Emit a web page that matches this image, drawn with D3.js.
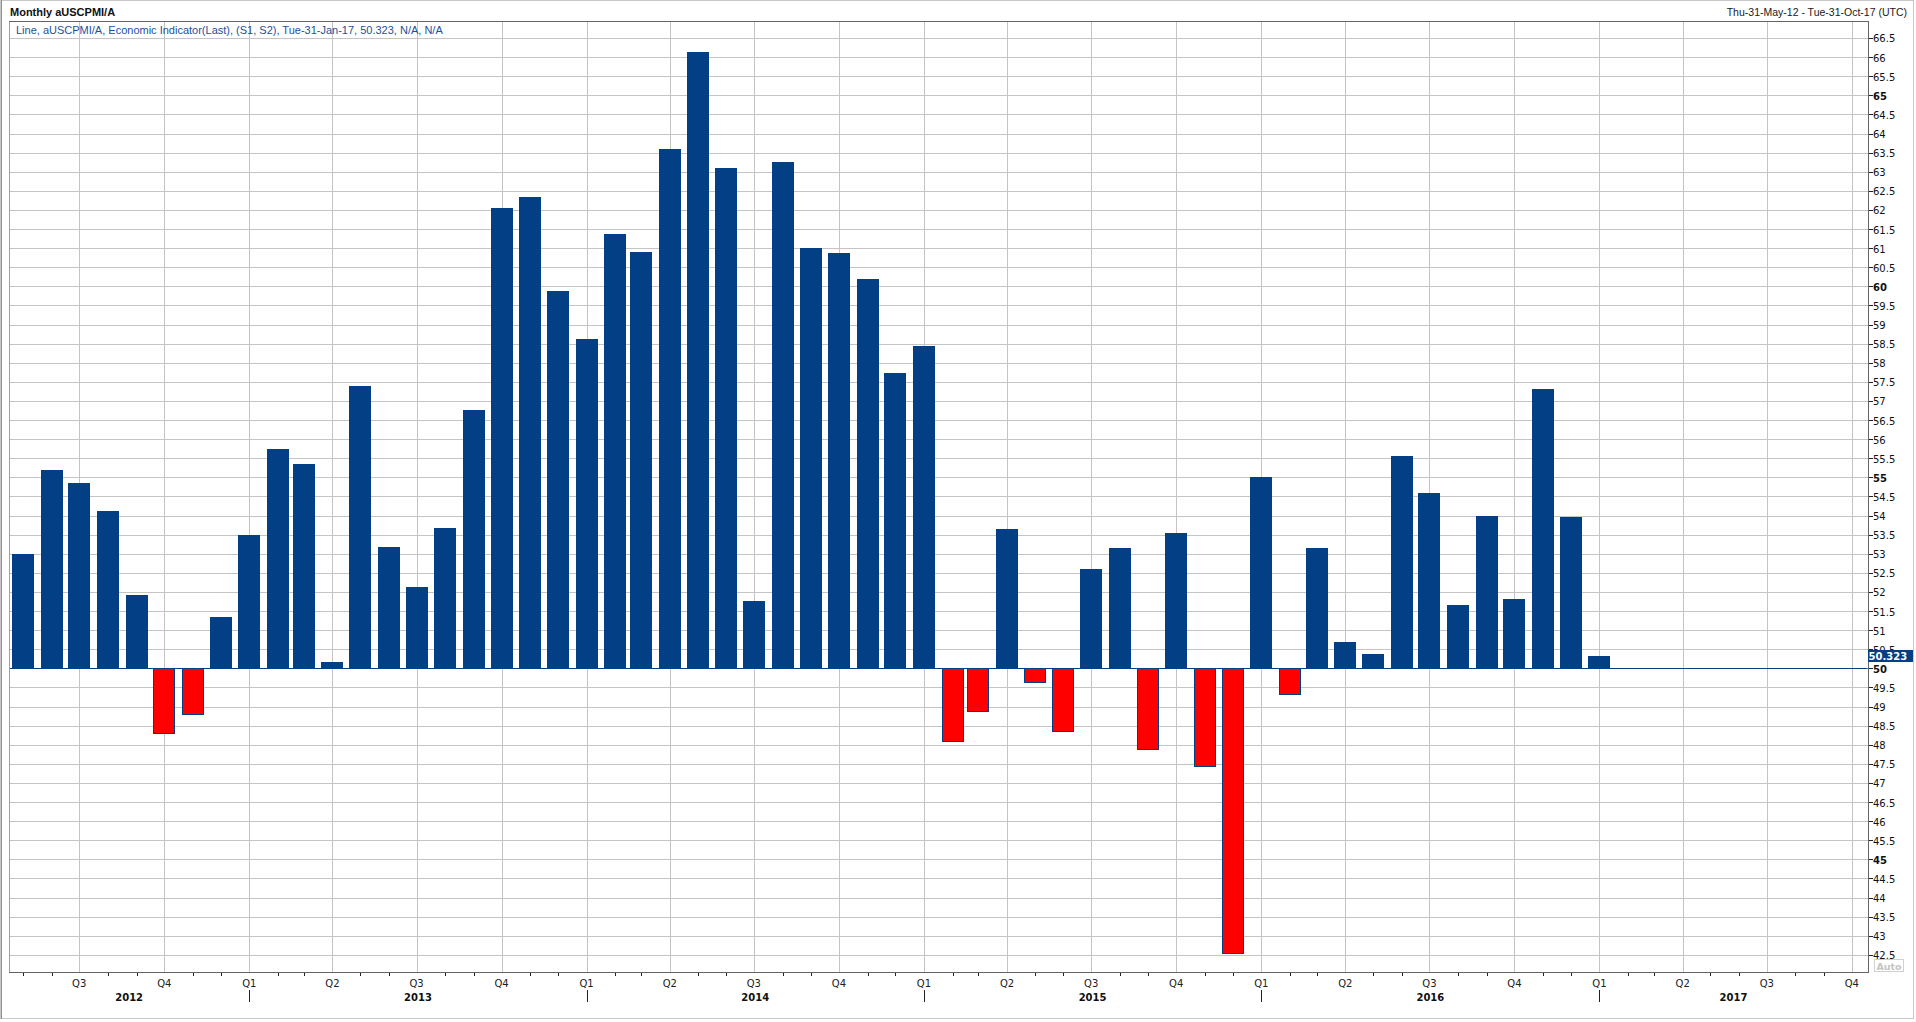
<!DOCTYPE html>
<html>
<head>
<meta charset="utf-8">
<script src="https://cdn.jsdelivr.net/npm/d3@7"></script>
<style>
  body { margin: 0; background: #fff; }
  svg { display: block; }
</style>
</head>
<body>
<svg id="chart" width="1916" height="1022"></svg>
<script>
// monthly readings, May 2012 .. Jan 2017
var months = [
  "2012-05","2012-06","2012-07","2012-08","2012-09","2012-10","2012-11","2012-12",
  "2013-01","2013-02","2013-03","2013-04","2013-05","2013-06","2013-07","2013-08","2013-09","2013-10","2013-11","2013-12",
  "2014-01","2014-02","2014-03","2014-04","2014-05","2014-06","2014-07","2014-08","2014-09","2014-10","2014-11","2014-12",
  "2015-01","2015-02","2015-03","2015-04","2015-05","2015-06","2015-07","2015-08","2015-09","2015-10","2015-11","2015-12",
  "2016-01","2016-02","2016-03","2016-04","2016-05","2016-06","2016-07","2016-08","2016-09","2016-10","2016-11","2016-12",
  "2017-01"
];
var pmi = [
  52.98, 55.18, 54.86, 54.13, 51.92, 48.30, 48.80, 51.34,
  53.49, 55.73, 55.34, 50.16, 57.39, 53.17, 52.14, 53.68, 56.75, 62.06, 62.35, 59.89,
  58.61, 61.36, 60.91, 63.60, 66.13, 63.09, 51.76, 63.25, 61.00, 60.88, 60.18, 57.74,
  58.45, 48.11, 48.88, 53.65, 49.65, 48.37, 52.59, 53.14, 47.89, 53.55, 47.44, 42.54,
  55.02, 49.33, 53.14, 50.70, 50.38, 55.57, 54.58, 51.66, 54.00, 51.82, 57.30, 53.97,
  50.323
];
var baseLevel = 50;
var lastValue = "50.323";
var titleText = "Monthly aUSCPMI/A";
var legendText = "Line, aUSCPMI/A, Economic Indicator(Last), (S1, S2), Tue-31-Jan-17, 50.323, N/A, N/A";
var rangeText = "Thu-31-May-12 - Tue-31-Oct-17 (UTC)";
var years = [2012, 2013, 2014, 2015, 2016, 2017];

var width = 1916, height = 1022;
var plot = {left: 9, right: 1867.5, top: 21, bottom: 972};
var blue = "#023f84", red = "#ff0000";
var axisFont = "'DejaVu Sans', Verdana, sans-serif";
var textFont = "'Liberation Sans', Arial, sans-serif";

var svg = d3.select("#chart");
var parseMonth = d3.utcParse("%Y-%m");
var data = months.map(function(m, i) { return {date: parseMonth(m), value: pmi[i]}; });

var x = d3.scaleUtc()
    .domain([new Date(Date.UTC(2012, 3, 16)), new Date(Date.UTC(2017, 9, 18))])
    .range([plot.left, plot.right]);
var y = d3.scaleLinear()
    .domain([42.05, 66.945])
    .range([plot.bottom, plot.top]);

function px(v) { return Math.round(v) + 0.5; }

// outer frame
svg.append("rect")
    .attr("x", 0.5).attr("y", 0.5)
    .attr("width", 1913).attr("height", 1018)
    .attr("fill", "none").attr("stroke", "#c8c8c8");
svg.append("line")
    .attr("x1", 1.5).attr("x2", 1.5).attr("y1", 0).attr("y2", 1019)
    .attr("stroke", "#909090");

// grid
var yTicks = d3.range(42.5, 66.51, 0.5);
var quarters = d3.utcMonth.every(3).range(new Date(Date.UTC(2012, 6, 1)), x.domain()[1]);
var monthTicks = d3.utcMonth.range(x.domain()[0], x.domain()[1])
    .filter(function(d) { return d.getUTCMonth() % 3 !== 0; });

var grid = svg.append("g").attr("stroke", "#c4c4c4").attr("shape-rendering", "crispEdges");
grid.selectAll(".hgrid").data(yTicks).enter().append("line")
    .attr("x1", plot.left).attr("x2", plot.right)
    .attr("y1", function(d) { return px(y(d)); })
    .attr("y2", function(d) { return px(y(d)); });
grid.selectAll(".vgrid").data(quarters).enter().append("line")
    .attr("x1", function(d) { return px(x(d)); })
    .attr("x2", function(d) { return px(x(d)); })
    .attr("y1", plot.top).attr("y2", plot.bottom);

// bars
var bars = svg.append("g").attr("shape-rendering", "crispEdges");
bars.selectAll("rect").data(data).enter().append("rect")
    .attr("x", function(d) { return Math.round(x(d.date) - 11) + 0.5; })
    .attr("width", 21)
    .attr("y", function(d) { return Math.round(y(Math.max(d.value, baseLevel))) + 0.5; })
    .attr("height", function(d) {
        return Math.max(1, Math.round(y(Math.min(d.value, baseLevel))) - Math.round(y(Math.max(d.value, baseLevel))));
    })
    .attr("fill", function(d) { return d.value < baseLevel ? red : blue; })
    .attr("stroke", blue);

// 50 line
svg.append("line")
    .attr("x1", plot.left).attr("x2", plot.right)
    .attr("y1", px(y(baseLevel))).attr("y2", px(y(baseLevel)))
    .attr("stroke", blue);

// plot frame
var frame = svg.append("g").attr("shape-rendering", "crispEdges");
frame.append("line").attr("x1", px(plot.left)).attr("x2", px(plot.left))
    .attr("y1", plot.top).attr("y2", plot.bottom).attr("stroke", "#a0a0a0");
frame.append("line").attr("x1", plot.left).attr("x2", plot.right)
    .attr("y1", px(plot.top)).attr("y2", px(plot.top)).attr("stroke", "#646464");
frame.append("line").attr("x1", plot.left).attr("x2", plot.right + 1)
    .attr("y1", px(plot.bottom)).attr("y2", px(plot.bottom)).attr("stroke", "#646464");
frame.append("line").attr("x1", px(plot.right)).attr("x2", px(plot.right))
    .attr("y1", plot.top).attr("y2", plot.bottom + 1).attr("stroke", "#646464");

// right value axis
var yAxis = svg.append("g").style("font-family", axisFont).style("font-size", "10px");
yAxis.selectAll("line").data(yTicks).enter().append("line")
    .attr("x1", px(plot.right)).attr("x2", px(plot.right) + 4)
    .attr("y1", function(d) { return px(y(d)); })
    .attr("y2", function(d) { return px(y(d)); })
    .attr("stroke", "#202020").attr("shape-rendering", "crispEdges");
yAxis.selectAll("text").data(yTicks).enter().append("text")
    .attr("x", 1873)
    .attr("y", function(d) { return y(d) + 4.5; })
    .attr("fill", "#101010")
    .style("font-weight", function(d) { return d % 5 === 0 ? "bold" : "normal"; })
    .text(function(d) { return d3.format("")(d); });

// last value tag
var lastY = Math.round(y(+lastValue));
svg.append("rect")
    .attr("x", 1868).attr("y", lastY - 6)
    .attr("width", 45).attr("height", 12)
    .attr("fill", blue);
svg.append("text")
    .attr("x", 1868.5).attr("y", lastY + 4)
    .attr("fill", "#fff")
    .style("font-family", axisFont).style("font-size", "10px").style("font-weight", "bold")
    .text(lastValue);

// "Auto" badge
svg.append("rect")
    .attr("x", 1874.5).attr("y", 959.5).attr("width", 29).attr("height", 12)
    .attr("fill", "#fff").attr("stroke", "#d0d0d0");
svg.append("text")
    .attr("x", 1889).attr("y", 969.5).attr("text-anchor", "middle")
    .attr("fill", "#c4c4c4")
    .style("font-family", axisFont).style("font-size", "9.5px").style("font-weight", "bold")
    .text("Auto");

// bottom time axis
var xAxis = svg.append("g").style("font-family", axisFont).style("font-size", "10px");
xAxis.selectAll(".mtick").data(monthTicks).enter().append("line")
    .attr("x1", function(d) { return px(x(d)); })
    .attr("x2", function(d) { return px(x(d)); })
    .attr("y1", plot.bottom + 1).attr("y2", plot.bottom + 4)
    .attr("stroke", "#202020").attr("shape-rendering", "crispEdges");
xAxis.selectAll(".qlabel").data(quarters).enter().append("text")
    .attr("x", function(d) { return x(d); })
    .attr("y", 986.5)
    .attr("text-anchor", "middle")
    .attr("fill", "#202020")
    .text(function(d) { return "Q" + (Math.floor(d.getUTCMonth() / 3) + 1); });
xAxis.selectAll(".ysep").data(years.slice(1)).enter().append("line")
    .attr("x1", function(d) { return px(x(new Date(Date.UTC(d, 0, 1)))); })
    .attr("x2", function(d) { return px(x(new Date(Date.UTC(d, 0, 1)))); })
    .attr("y1", 990).attr("y2", 1002)
    .attr("stroke", "#202020").attr("shape-rendering", "crispEdges");
xAxis.selectAll(".ylabel").data(years).enter().append("text")
    .attr("x", function(d) {
        var a = Math.max(x(new Date(Date.UTC(d, 0, 1))), plot.left);
        var b = Math.min(x(new Date(Date.UTC(d + 1, 0, 1))), plot.right);
        return (a + b) / 2;
    })
    .attr("y", 1000.5)
    .attr("text-anchor", "middle")
    .attr("fill", "#101010")
    .style("font-weight", "bold")
    .text(function(d) { return d; });

// header texts
svg.append("text")
    .attr("x", 10).attr("y", 15.5)
    .attr("fill", "#101010")
    .style("font-family", textFont).style("font-size", "11px").style("font-weight", "bold")
    .text(titleText);
svg.append("text")
    .attr("x", 1907).attr("y", 15.5)
    .attr("text-anchor", "end")
    .attr("fill", "#202020")
    .style("font-family", textFont).style("font-size", "10.5px")
    .text(rangeText);
svg.append("text")
    .attr("x", 16).attr("y", 33.5)
    .attr("fill", "#1d4f9c")
    .style("font-family", textFont).style("font-size", "11px")
    .text(legendText);
</script>
</body>
</html>
